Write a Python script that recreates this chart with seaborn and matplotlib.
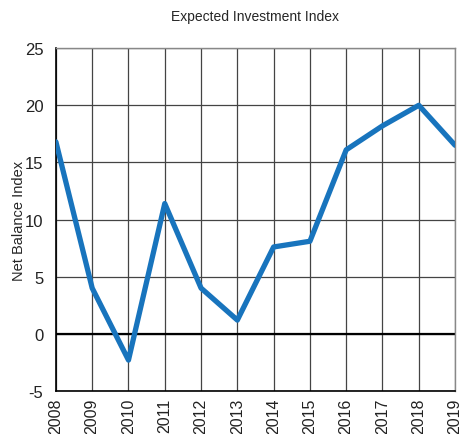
import matplotlib
matplotlib.use("Agg")
import matplotlib.pyplot as plt
import seaborn as sns
import pandas as pd

years = [2008, 2009, 2010, 2011, 2012, 2013, 2014, 2015, 2016, 2017, 2018, 2019]
values = [16.8, 4.0, -2.3, 11.4, 4.0, 1.2, 7.6, 8.1, 16.1, 18.2, 20.0, 16.5]
yticks = [-5, 0, 5, 10, 15, 20, 25]

sns.set_theme(style="white")
plt.rcParams['font.family'] = ['Liberation Sans', 'DejaVu Sans']

df = pd.DataFrame({"year": years, "value": values})

fig = plt.figure(figsize=(4.62, 4.35), dpi=100)
ax = fig.add_axes([0.121, 0.099, 0.864, 0.788])

sns.lineplot(data=df, x="year", y="value", ax=ax, color="#1874bd", linewidth=3.8, zorder=3)

ax.set_xlim(2008, 2019)
ax.set_ylim(-5, 25)
ax.set_xticks(years)
ax.set_xticklabels([str(y) for y in years], rotation=90, fontsize=11.5)
ax.set_yticks(yticks)
ax.set_yticklabels([str(v) for v in yticks], fontsize=12)
ax.grid(True, color="#444444", linewidth=0.9)
ax.axhline(0, color="black", linewidth=1.6, zorder=2)
ax.set_xlabel("")
ax.set_ylabel("Net Balance Index", fontsize=10.5)
ax.yaxis.set_label_coords(-0.075, 0.5)
ax.set_title("Expected Investment Index", fontsize=10, pad=20)

for s in ["top", "right"]:
    ax.spines[s].set_color("#888888")
    ax.spines[s].set_linewidth(1.0)
for s in ["left", "bottom"]:
    ax.spines[s].set_color("black")
    ax.spines[s].set_linewidth(1.2)
ax.tick_params(axis="y", length=0, pad=9, colors="#222222")
ax.tick_params(axis="x", length=0, pad=5, colors="#222222")

fig.savefig("out.png", dpi=100)
